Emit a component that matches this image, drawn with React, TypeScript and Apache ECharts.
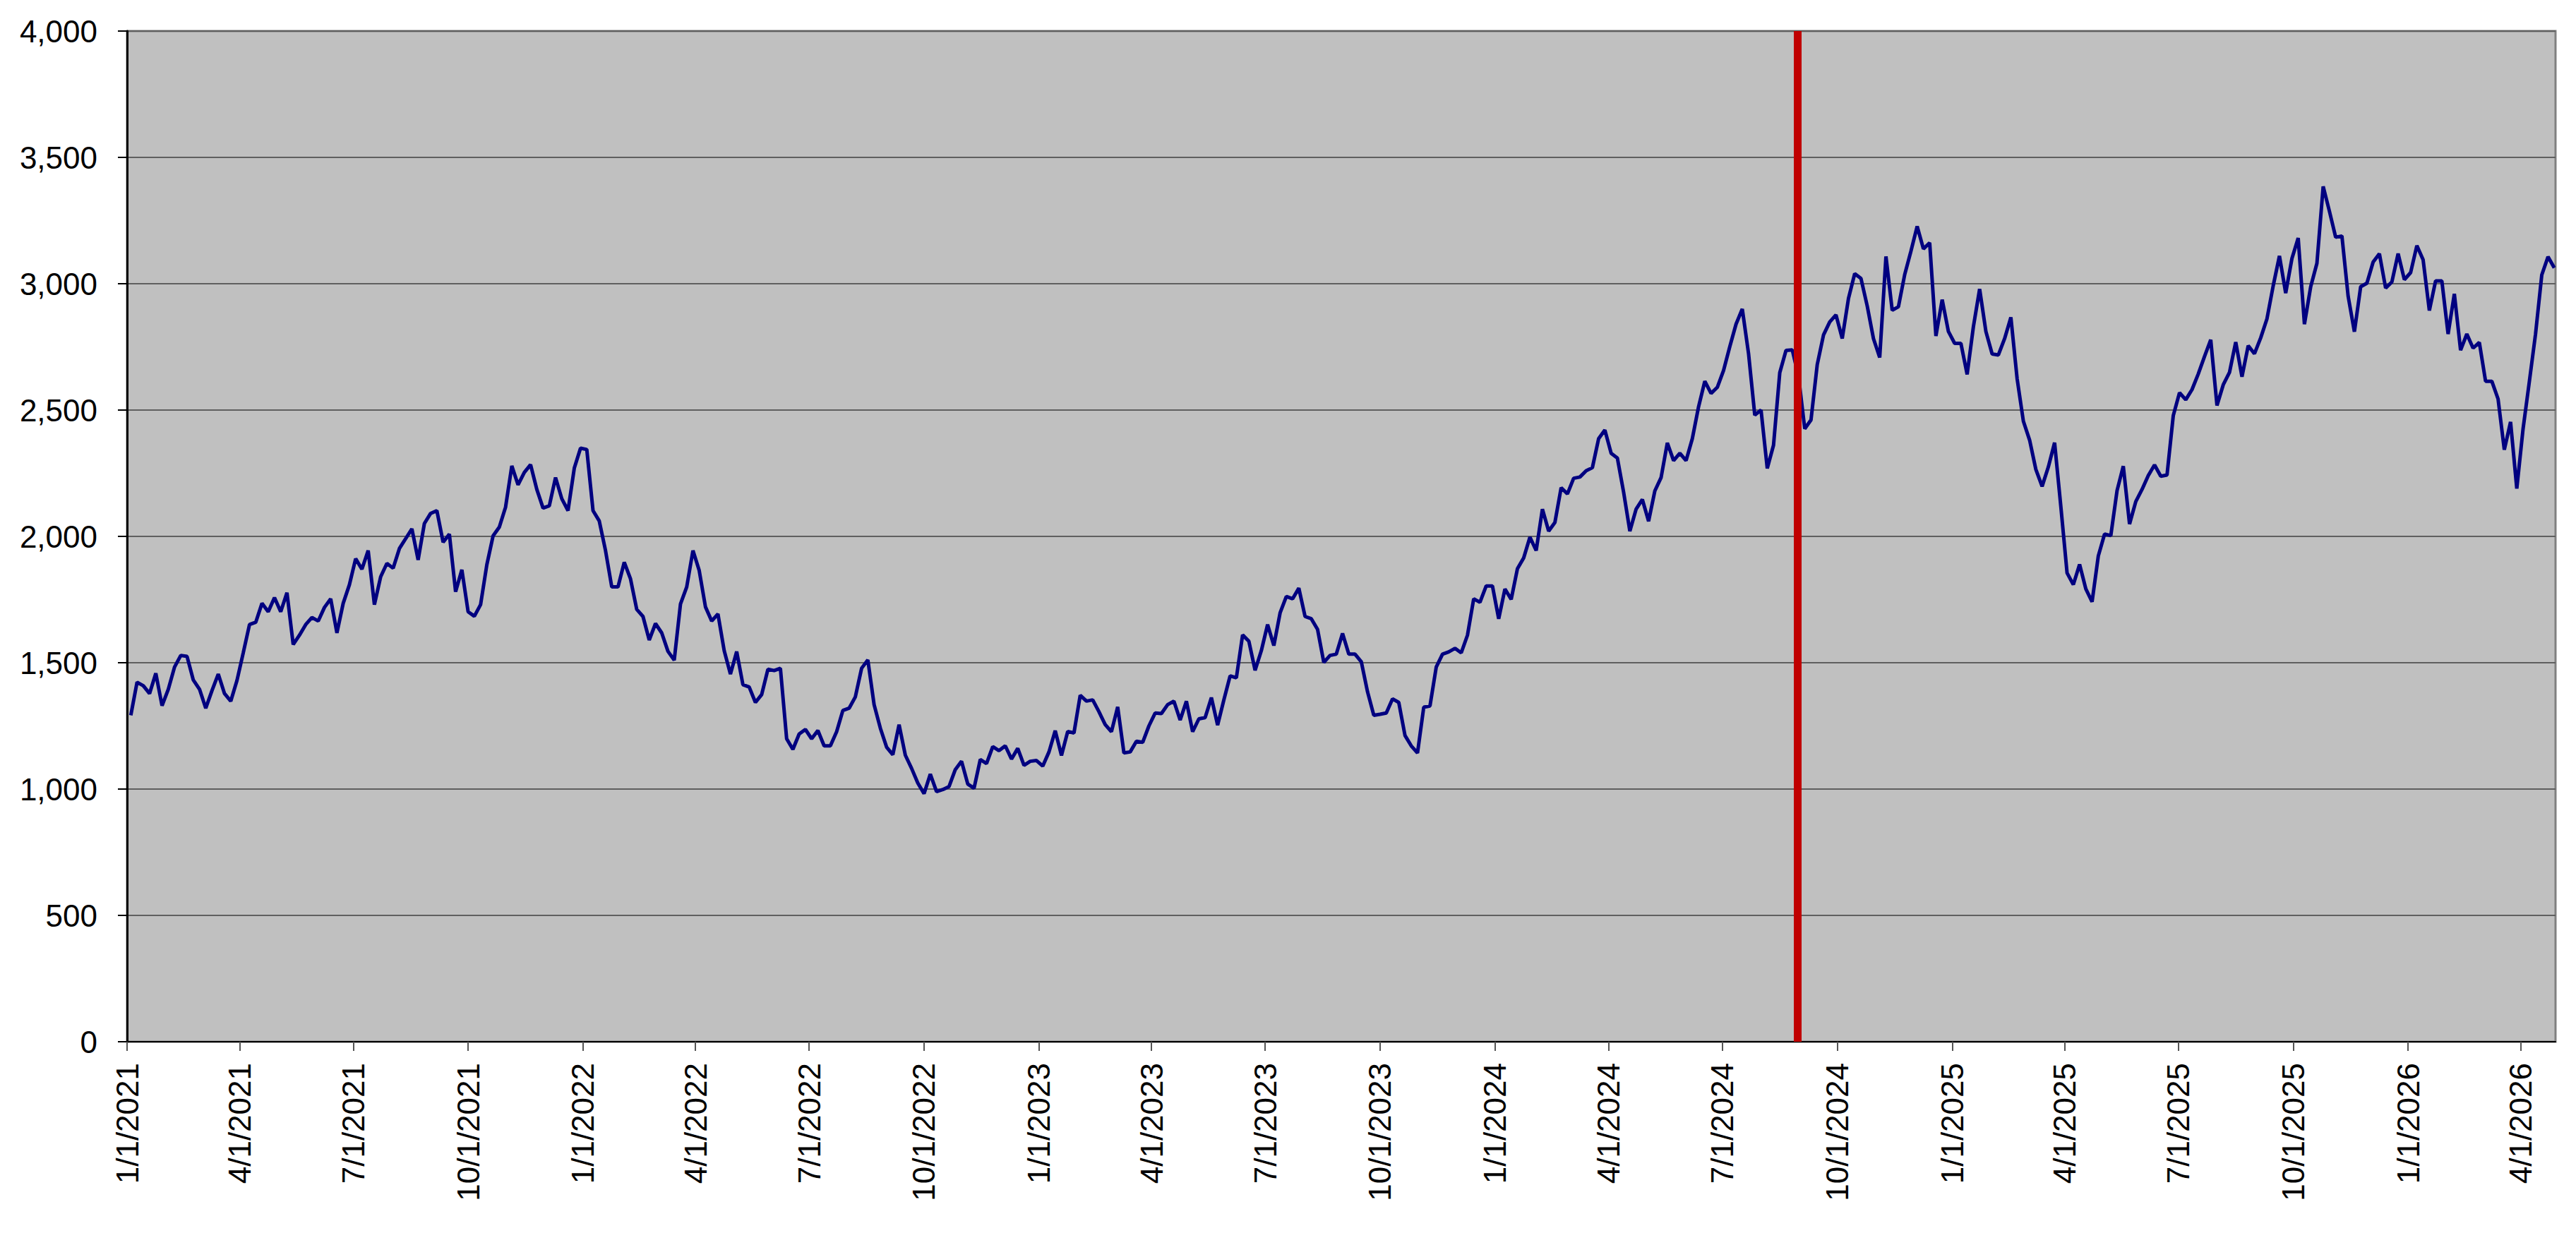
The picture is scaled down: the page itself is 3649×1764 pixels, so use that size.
import React, { useEffect, useRef } from "react";
import * as echarts from "echarts";

// ---- data (one value every STEP_DAYS days) ----
const START_DATE = "1/4/2021";
const STEP_DAYS = 5;

const values2021 = [
  1292, 1423, 1409, 1378, 1458, 1330, 1395, 1483, 1529, 1525,
  1432, 1395, 1320, 1390, 1455, 1378, 1348, 1430, 1539, 1651,
  1660, 1735, 1702, 1758, 1702, 1777, 1572, 1609, 1651, 1679,
  1665, 1719, 1753, 1618, 1735, 1809, 1912, 1870, 1944, 1730,
  1840, 1893, 1874, 1952, 1991, 2030, 1907, 2051, 2091, 2102,
  1977, 2009, 1781, 1868, 1702, 1684, 1730, 1888, 2002, 2037,
  2116, 2279, 2204, 2253, 2284, 2186, 2112, 2121, 2233, 2149,
  2102, 2270, 2349,
];
const values2022 = [
  2344, 2102, 2061, 1944, 1800, 1800, 1898, 1832, 1711, 1683,
  1590, 1655, 1618, 1545, 1510, 1732, 1800, 1944, 1865, 1721,
  1665, 1693, 1548, 1455, 1544, 1413, 1404, 1343, 1374, 1474,
  1469, 1478, 1199, 1157, 1218, 1236, 1199, 1232, 1171, 1171,
  1227, 1311, 1320, 1365, 1478, 1511, 1334, 1241, 1166, 1136,
  1255, 1134, 1082, 1024, 982, 1059, 990, 998, 1010, 1077,
  1110, 1020, 1003, 1117, 1101, 1168, 1152, 1171, 1119, 1161,
  1094, 1110, 1113,
];
const values2023 = [
  1091, 1147, 1231, 1133, 1228, 1222, 1371, 1348, 1353, 1306,
  1255, 1227, 1325, 1143, 1147, 1189, 1185, 1250, 1301, 1299,
  1334, 1348, 1273, 1348, 1227, 1278, 1283, 1362, 1253, 1353,
  1448, 1440, 1610, 1585, 1470, 1548, 1651, 1568, 1697, 1762,
  1753, 1795, 1683, 1674, 1632, 1501, 1529, 1534, 1616, 1534,
  1534, 1504, 1385, 1292, 1296, 1301, 1357, 1343, 1212, 1171,
  1143, 1324, 1329, 1483, 1534, 1543, 1557, 1539, 1609, 1753,
  1739, 1804, 1804,
];
const values2024 = [
  1674, 1792, 1751, 1872, 1915, 1997, 1944, 2108, 2021, 2055,
  2193, 2168, 2230, 2235, 2260, 2272, 2387, 2421, 2329, 2310,
  2175, 2021, 2108, 2146, 2060, 2180, 2233, 2370, 2300, 2329,
  2300, 2387, 2513, 2614, 2566, 2590, 2657, 2751, 2840, 2900,
  2724, 2480, 2500, 2269, 2361, 2648, 2736, 2738, 2634, 2426,
  2461, 2680, 2797, 2849, 2877, 2783, 2942, 3040, 3021, 2912,
  2783, 2708, 3108, 2895, 2909, 3036, 3129, 3227, 3138, 3162,
  2793, 2937, 2811,
];
const values2025 = [
  2764, 2764, 2641, 2830, 2979, 2811, 2722, 2718, 2783, 2867,
  2624, 2456, 2381, 2265, 2198, 2275, 2371, 2118, 1855, 1809,
  1889, 1792, 1741, 1923, 2009, 2003, 2181, 2278, 2049, 2138,
  2186, 2241, 2283, 2238, 2243, 2478, 2569, 2541, 2581, 2643,
  2712, 2778, 2518, 2600, 2649, 2769, 2632, 2755, 2723, 2786,
  2861, 2992, 3110, 2963, 3100, 3181, 2840, 2988, 3081, 3385,
  3287, 3184, 3189, 2950, 2810, 2988, 3002, 3086, 3119, 2983,
  3007, 3119, 3016,
];
const values2026 = [
  3044, 3151, 3095, 2894, 3011, 3011, 2801, 2960, 2737, 2801,
  2745, 2768, 2614, 2614, 2544, 2343, 2453, 2189, 2425, 2611,
  2801, 3035, 3107, 3063,
];

const tickLabels = [
  "1/1/2021", "4/1/2021", "7/1/2021", "10/1/2021",
  "1/1/2022", "4/1/2022", "7/1/2022", "10/1/2022",
  "1/1/2023", "4/1/2023", "7/1/2023", "10/1/2023",
  "1/1/2024", "4/1/2024", "7/1/2024", "10/1/2024",
  "1/1/2025", "4/1/2025", "7/1/2025", "10/1/2025",
  "1/1/2026", "4/1/2026",
];
const X_MIN_DATE = "1/1/2021";
const X_MAX_DATE = "4/29/2026";
const MARKER_DATE = "8/30/2024";
const Y_MIN = 0;
const Y_MAX = 4000;
const Y_STEP = 500;

const DAY = 86400000;
function parseMDY(s: string): number {
  const [m, d, y] = s.split("/").map(Number);
  return Date.UTC(y, m - 1, d);
}
function fmtMDY(v: number): string {
  const d = new Date(v);
  return `${d.getUTCMonth() + 1}/${d.getUTCDate()}/${d.getUTCFullYear()}`;
}

const allValues = [
  ...values2021, ...values2022, ...values2023,
  ...values2024, ...values2025, ...values2026,
];
const start = parseMDY(START_DATE);
const seriesData = allValues.map((v, i) => [start + i * STEP_DAYS * DAY, v]);
const tickValues = tickLabels.map(parseMDY);

const FONT = "'Liberation Sans', Arial, Helvetica, sans-serif";

export default function App() {
  const ref = useRef<HTMLDivElement>(null);
  useEffect(() => {
    if (!ref.current) return;
    const chart = echarts.init(ref.current, undefined, { renderer: "svg" });
    chart.setOption({
      animation: false,
      backgroundColor: "#ffffff",
      textStyle: { fontFamily: FONT },
      grid: {
        left: 180,
        right: 29,
        top: 44,
        bottom: 288,
        show: true,
        backgroundColor: "#C0C0C0",
        borderColor: "#808080",
        borderWidth: 3,
      },
      xAxis: {
        type: "value",
        min: parseMDY(X_MIN_DATE),
        max: parseMDY(X_MAX_DATE),
        axisLine: { show: true, onZero: false, lineStyle: { color: "#000000", width: 2 } },
        axisTick: {
          show: true,
          customValues: tickValues,
          length: 13,
          lineStyle: { color: "#555555", width: 2 },
        },
        axisLabel: {
          customValues: tickValues,
          rotate: 90,
          margin: 30,
          fontSize: 44,
          fontFamily: FONT,
          color: "#000000",
          hideOverlap: false,
          showMinLabel: true,
          showMaxLabel: true,
          formatter: (v: number) => fmtMDY(v),
        },
        splitLine: { show: false },
      },
      yAxis: {
        type: "value",
        min: Y_MIN,
        max: Y_MAX,
        interval: Y_STEP,
        axisLine: { show: true, lineStyle: { color: "#000000", width: 3 } },
        axisTick: { show: true, length: 13, lineStyle: { color: "#000000", width: 2 } },
        axisLabel: { fontSize: 44, fontFamily: FONT, color: "#000000", margin: 42 },
        splitLine: { show: true, lineStyle: { color: "#5f5f5f", width: 2 } },
      },
      series: [
        {
          type: "line",
          data: seriesData,
          showSymbol: false,
          symbol: "none",
          lineStyle: { color: "#000080", width: 5 },
          markLine: {
            silent: true,
            symbol: ["none", "none"],
            label: { show: false },
            lineStyle: { color: "#C00000", width: 11, type: "solid" },
            data: [{ xAxis: parseMDY(MARKER_DATE) }],
          },
        },
      ],
    });
    return () => chart.dispose();
  }, []);
  return (
    <div
      ref={ref}
      style={{ position: "fixed", left: 0, top: 0, width: 3649, height: 1764 }}
    />
  );
}
